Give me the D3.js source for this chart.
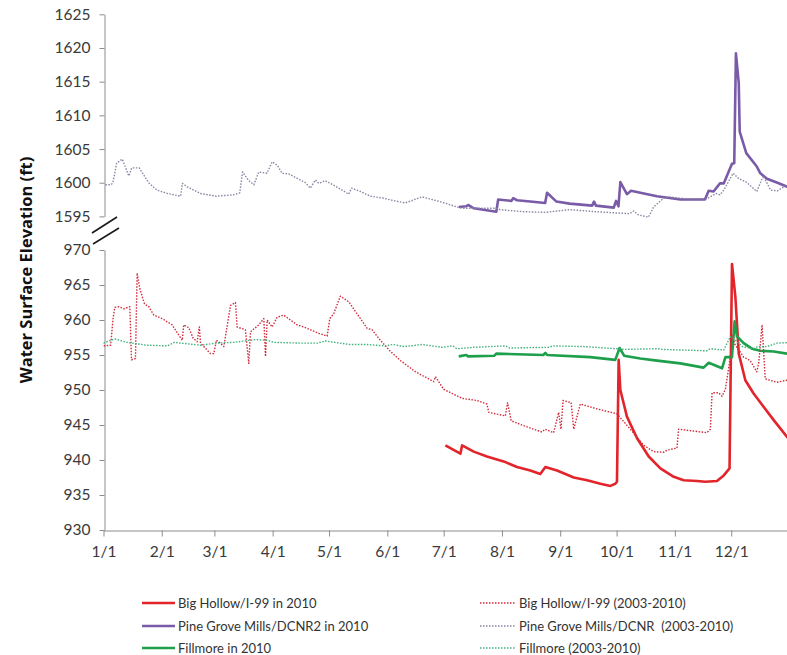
<!DOCTYPE html>
<html>
<head>
<meta charset="utf-8">
<script src="https://cdn.jsdelivr.net/npm/d3@7"></script>
<style>
  html, body { margin: 0; padding: 0; background: #fff; }
  svg { display: block; }
  text { font-family: Lato, "Open Sans", sans-serif; }
</style>
</head>
<body>
<svg id="chart" width="787" height="655"></svg>
<script>
// ---- Data (day of year since 1/1, water surface elevation in ft) ----
const monthTicks = ["1/1","2/1","3/1","4/1","5/1","6/1","7/1","8/1","9/1","10/1","11/1","12/1"];
const topTicks = [1595, 1600, 1605, 1610, 1615, 1620, 1625];
const bottomTicks = [930, 935, 940, 945, 950, 955, 960, 965, 970];

const bigHollow2010 = [
  [181.9,942.1],[189.9,940.9],[190.8,942.1],[197,941.2],[204,940.5],[212.9,939.8],[220,939.0],
  [227.1,938.5],[232.4,938.0],[235.1,939.0],[241.3,938.5],[250.2,937.5],[257.3,937.1],[264.4,936.6],
  [269.7,936.3],[272.3,936.6],[273.2,936.9],[274.1,954.3],[275,950.0],[278.5,946.2],[283.9,943.1],
  [290.1,940.5],[296.3,938.8],[303.4,937.6],[308.7,937.1],[315.8,937.0],[320.2,936.9],[326.4,937.0],
  [330,937.8],[333.1,938.8],[334.4,968.0],[336.2,963.3],[338,955.2],[341.5,951.4],[345.9,949.5],
  [351.2,947.6],[356.6,945.7],[363.7,943.3],[366,942.6]
];
const pineGrove2010 = [
  [189,1596.4],[193,1596.5],[194,1596.7],[197,1596.2],[209,1595.7],[210,1597.5],[217,1597.3],
  [218,1597.7],[220,1597.4],[227,1597.2],[235,1597.0],[236,1598.5],[241,1597.2],[248,1596.9],
  [260,1596.6],[261,1597.2],[262,1596.6],[271.5,1596.3],[272.7,1597.3],[274,1596.5],[275,1600.1],
  [278.5,1598.3],[280.7,1598.8],[287.5,1598.4],[294.5,1598.0],[307,1597.5],[320,1597.5],[322,1598.8],
  [324.6,1598.7],[328,1599.9],[330,1599.9],[334.4,1602.8],[335.6,1602.9],[336.5,1619.2],[338,1614.8],
  [338.5,1607.6],[342,1604.4],[347.6,1602.4],[349.5,1601.4],[353,1600.6],[358.6,1600.0],[363.8,1599.4],
  [366,1599.2]
];
const fillmore2010 = [
  [189,954.8],[193,955.0],[194,954.8],[208,954.9],[209,955.2],[234,955.0],[235.1,955.3],[236,955.0],
  [259,954.7],[272.3,954.3],[274.6,956.0],[277,954.9],[285.6,954.5],[294.5,954.2],[306.9,953.8],
  [319.3,953.2],[322,953.9],[324.6,953.6],[329.1,953.1],[330.9,954.7],[334.4,954.7],[335.8,959.8],
  [337,957.7],[340.6,956.7],[345,955.9],[349.5,955.6],[356.6,955.5],[363.7,955.2],[366,955.2]
];
const bigHollowHist = [
  [0.1,956.3],[3.8,956.4],[5.1,960.2],[6,961.8],[8.2,961.9],[10.9,961.6],[14,961.9],[14.9,954.3],
  [17,954.5],[17.9,966.7],[19.3,964.5],[21.8,962.3],[24.1,961.9],[26.8,960.7],[31.2,960.2],[36.5,959.3],
  [41.9,957.1],[42.7,959.3],[45.4,958.9],[47.7,957.4],[49.8,956.9],[51,959.0],[51.6,956.7],[56.9,955.2],
  [58.7,955.2],[60.1,957.1],[62.2,956.7],[64,956.2],[67.6,962.1],[70.2,962.5],[71.1,959.0],[75.5,958.6],
  [77.3,953.8],[78.2,958.3],[82.6,959.3],[85.3,960.2],[86.2,954.8],[87.1,960.0],[89.7,959.0],[92.4,960.4],
  [95.9,960.7],[99.5,960.0],[103,959.3],[106.6,959.0],[114.5,958.1],[119,957.7],[120.4,960.2],[122.5,960.9],
  [126,963.4],[130.5,962.6],[140.3,958.8],[142.9,958.6],[147.3,957.1],[152.7,955.5],[158,954.2],
  [166,952.6],[175.7,951.2],[176.6,951.9],[181,950.1],[190.8,948.8],[198.8,948.5],[204,948.0],[205,946.8],
  [213.8,946.3],[215,948.2],[216.9,945.6],[223.6,944.9],[233.3,944.0],[235,944.4],[239.5,943.9],
  [242.2,946.8],[243.4,944.4],[244.5,948.5],[248.8,948.2],[250.2,944.4],[253.7,948.0],[262.6,947.3],
  [273.2,946.6],[280.3,944.4],[287.4,942.1],[292.7,941.2],[298,941.1],[299.8,941.4],[305.1,941.7],
  [306,944.4],[321,943.9],[322.9,944.4],[323.8,949.6],[327.3,949.6],[329.1,949.1],[330.9,950.1],
  [333.5,954.7],[334.4,957.8],[336,956.5],[340.6,954.7],[344.1,954.2],[347.6,952.6],[348.6,953.8],
  [350.4,959.3],[352.1,951.6],[358.3,951.1],[363.7,951.4],[366,951.3]
];
const pineGroveHist = [
  [1,1599.7],[4,1599.7],[5,1600.0],[6,1601.4],[7,1602.9],[10,1603.5],[13.5,1601.0],[15,1602.2],
  [19,1602.2],[24,1600.0],[28.5,1598.9],[34,1598.4],[41,1598.0],[42,1599.9],[44.5,1599.4],[51.6,1598.4],
  [60,1598.0],[69,1598.2],[72.5,1598.5],[74,1601.6],[77,1600.4],[80,1599.7],[82.6,1601.6],[87,1601.4],
  [89.7,1603.1],[92.5,1602.6],[95,1601.4],[98.6,1601.3],[104.8,1600.4],[107.4,1600.0],[110,1599.2],
  [112.8,1600.4],[114.5,1599.9],[118,1600.3],[124,1599.4],[130.5,1598.3],[132,1599.2],[136.7,1598.7],
  [142,1598.0],[149,1597.7],[155,1597.3],[160.6,1597.0],[169.5,1597.9],[179,1597.2],[188,1596.4],
  [191,1596.2],[209,1596.2],[211,1596.0],[223.6,1595.7],[235,1595.6],[248,1596.0],[262,1595.7],
  [280,1595.4],[282,1595.8],[284.7,1595.2],[290,1594.9],[292.7,1596.4],[298,1597.7],[300.7,1597.9],
  [310,1597.6],[321,1597.6],[326,1598.4],[328,1598.2],[330,1598.9],[335,1601.4],[338,1600.6],
  [342,1600.1],[347.6,1598.7],[351,1601.0],[355,1598.9],[358.6,1598.8],[362,1599.4],[366,1599.4]
];
const fillmoreHist = [
  [0,956.7],[3.8,957.1],[6,957.3],[12.6,956.8],[23,956.4],[34,956.3],[37.6,956.8],[51.6,956.4],
  [60,956.7],[69,956.8],[81,957.2],[87,957.1],[91,956.8],[105,956.7],[114,956.7],[118,957.0],
  [123,956.8],[131,956.5],[140,956.5],[150,956.3],[154,956.5],[160,956.2],[169.5,956.5],[180,956.1],
  [186,956.3],[188,955.9],[197,956.1],[214,956.3],[216,956.0],[237,956.1],[239,956.3],[256,956.2],
  [273,955.9],[277,955.8],[295,955.9],[297,955.8],[321,955.6],[323,955.9],[330,955.7],[333.5,957.6],
  [335,957.4],[340,956.2],[345.9,955.9],[348,956.2],[353,956.2],[358.3,956.7],[366,956.8]
];

const legendLabels = [
  "Big Hollow/I-99 in 2010", "Pine Grove Mills/DCNR2 in 2010", "Fillmore in 2010",
  "Big Hollow/I-99 (2003-2010)", "Pine Grove Mills/DCNR  (2003-2010)", "Fillmore (2003-2010)"
];
const axisTitle = "Water Surface Elevation (ft)";

// ---- Styles ----
const colors = {
  red: "#e2242b", purple: "#7a5ba8", green: "#1e9f4c",
  redDot: "#d12a3a", purpleDot: "#8a84a4", greenDot: "#3fb27d"
};

const svg = d3.select("#chart");
const start = new Date(Date.UTC(2010, 0, 1));
const toDate = d => new Date(start.getTime() + d * 864e5);

const x = d3.scaleUtc().domain([start, new Date(Date.UTC(2011, 0, 1))]).range([103.5, 789.5]);
const yTop = d3.scaleLinear().domain([1595, 1625]).range([216.4, 14.3]);
const yBot = d3.scaleLinear().domain([930, 970]).range([530, 250]);

const axisColor = "#8c8c8c";
const labelColor = "#3a3a3a";

function styleAxis(g) {
  g.selectAll("path, line").attr("stroke", axisColor).attr("stroke-width", 1);
  g.selectAll("text").attr("fill", labelColor).style("font-size", "15.5px")
    .style("font-family", "Lato, sans-serif");
}

// Top y axis
svg.append("g").attr("transform", "translate(104.5,0)")
  .call(d3.axisLeft(yTop).tickValues(topTicks).tickSize(5).tickSizeOuter(0).tickPadding(9).tickFormat(d3.format("d")))
  .call(styleAxis);
// Bottom y axis
svg.append("g").attr("transform", "translate(104.5,0)")
  .call(d3.axisLeft(yBot).tickValues(bottomTicks).tickSize(5).tickSizeOuter(0).tickPadding(9).tickFormat(d3.format("d")))
  .call(styleAxis);
// x axis
const months = d3.utcMonths(start, new Date(Date.UTC(2011, 0, 1)));
svg.append("g").attr("transform", "translate(0,530.5)")
  .call(d3.axisBottom(x).tickValues(months.concat([new Date(Date.UTC(2011,0,1))])).tickSize(6).tickSizeOuter(0).tickPadding(9)
    .tickFormat((d, i) => i < monthTicks.length ? monthTicks[i] : ""))
  .call(styleAxis);

// axis break marks
const brk = svg.append("g").attr("stroke", "#1a1a1a").attr("stroke-width", 1.6);
brk.append("line").attr("x1", 92).attr("y1", 233).attr("x2", 117).attr("y2", 217);
brk.append("line").attr("x1", 93).attr("y1", 244).attr("x2", 119).attr("y2", 228);

// y title
svg.append("text")
  .attr("transform", "translate(32,270) rotate(-90)")
  .attr("text-anchor", "middle")
  .style("font-family", "'Open Sans', sans-serif")
  .style("font-weight", 700).style("font-size", "16.5px").attr("fill", "#111")
  .text(axisTitle);

function drawLine(data, yScale, color, width, dotted) {
  const line = d3.line().x(d => x(toDate(d[0]))).y(d => yScale(d[1]));
  const p = svg.append("path").datum(data).attr("d", line)
    .attr("fill", "none").attr("stroke", color).attr("stroke-width", width)
    .attr("stroke-linejoin", "round");
  if (dotted) p.attr("stroke-dasharray", "1.5 1.5");
}

drawLine(bigHollow2010, yBot, colors.red, 2.6, false);
drawLine(pineGrove2010, yTop, colors.purple, 2.6, false);
drawLine(fillmore2010, yBot, colors.green, 2.6, false);
drawLine(bigHollowHist, yBot, colors.redDot, 1.4, true);
drawLine(pineGroveHist, yTop, colors.purpleDot, 1.4, true);
drawLine(fillmoreHist, yBot, colors.greenDot, 1.4, true);

// Legend
const legendRows = [603, 626, 648];
const legendItems = [
  {label: legendLabels[0], color: colors.red, dotted: false, col: 0, row: 0},
  {label: legendLabels[1], color: colors.purple, dotted: false, col: 0, row: 1},
  {label: legendLabels[2], color: colors.green, dotted: false, col: 0, row: 2},
  {label: legendLabels[3], color: colors.redDot, dotted: true, col: 1, row: 0},
  {label: legendLabels[4], color: colors.purpleDot, dotted: true, col: 1, row: 1},
  {label: legendLabels[5], color: colors.greenDot, dotted: true, col: 1, row: 2}
];
const colX = [[142, 175, 178], [480, 515, 519]];
legendItems.forEach(it => {
  const [x1, x2, tx] = colX[it.col];
  const y = legendRows[it.row];
  const l = svg.append("line").attr("x1", x1).attr("x2", x2).attr("y1", y).attr("y2", y)
    .attr("stroke", it.color).attr("stroke-width", it.dotted ? 1.4 : 2.6);
  if (it.dotted) l.attr("stroke-dasharray", "1.5 1.5");
  svg.append("text").attr("x", tx).attr("y", y).attr("dy", "0.35em")
    .attr("fill", "#333").style("font-size", "13px").style("white-space", "pre")
    .attr("xml:space", "preserve")
    .text(it.label);
});
</script>
</body>
</html>
